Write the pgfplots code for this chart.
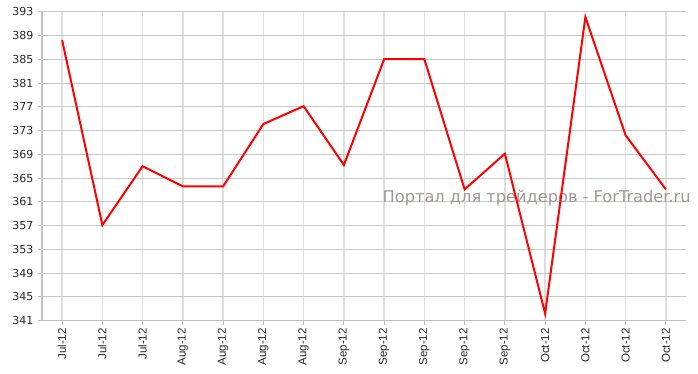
\documentclass[border=0pt]{standalone}
\usepackage{pgfplots}
\pgfplotsset{compat=1.18}
\usepackage{fontspec}
\setmainfont{DejaVu Sans}
\newfontfamily\arialf{Liberation Sans}
\definecolor{gridh}{RGB}{200,200,200}
\definecolor{gridv}{RGB}{222,222,222}
\definecolor{axisc}{RGB}{192,192,192}
\definecolor{wm}{RGB}{165,148,148}
\begin{document}
\begin{tikzpicture}[x=1pt,y=1pt]
\path[use as bounding box] (0,0) rectangle (698,373);
\begin{axis}[
  at={(42pt,52.3pt)}, anchor=south west,
  scale only axis, width=644pt, height=309pt,
  xmin=-0.5, xmax=15.5, ymin=341, ymax=393,
  clip=false,
  xtick={0,...,15},
  xticklabels={Jul-12,Jul-12,Jul-12,Aug-12,Aug-12,Aug-12,Aug-12,Sep-12,Sep-12,Sep-12,Sep-12,Sep-12,Oct-12,Oct-12,Oct-12,Oct-12},
  ytick={341,345,...,393},
  /pgf/number format/assume math mode=true,
  axis x line*=bottom, axis y line*=left,
  axis line style={axisc, line width=1.5pt, -},
  xmajorgrids, ymajorgrids,
  x grid style={gridv, line width=1.3pt},
  y grid style={gridh, line width=0.9pt},
  tick align=outside, major tick length=4pt,
  tick style={axisc, line width=0.9pt},
  yticklabel style={font=\fontsize{11}{13}\selectfont, text=black!85, xshift=-1pt},
  xticklabel style={font=\arialf\fontsize{11.5}{13}\selectfont, rotate=90, anchor=east, text=black!85},
]
\node[font=\fontsize{16.2}{19}\selectfont, text=wm, anchor=center] at (axis cs:11.79,361.6) {Портал для трейдеров - ForTrader.ru};
\addplot[red, line width=2pt, line join=miter] coordinates {
(0,388.2) (1,357.1) (2,367.0) (3,363.6) (4,363.6) (5,374.1) (6,377.1) (7,367.2)
(8,385.0) (9,385.0) (10,363.1) (11,369.1) (12,342.2) (13,392.1) (14,372.2) (15,363.1)
};
\end{axis}
\end{tikzpicture}
\end{document}
